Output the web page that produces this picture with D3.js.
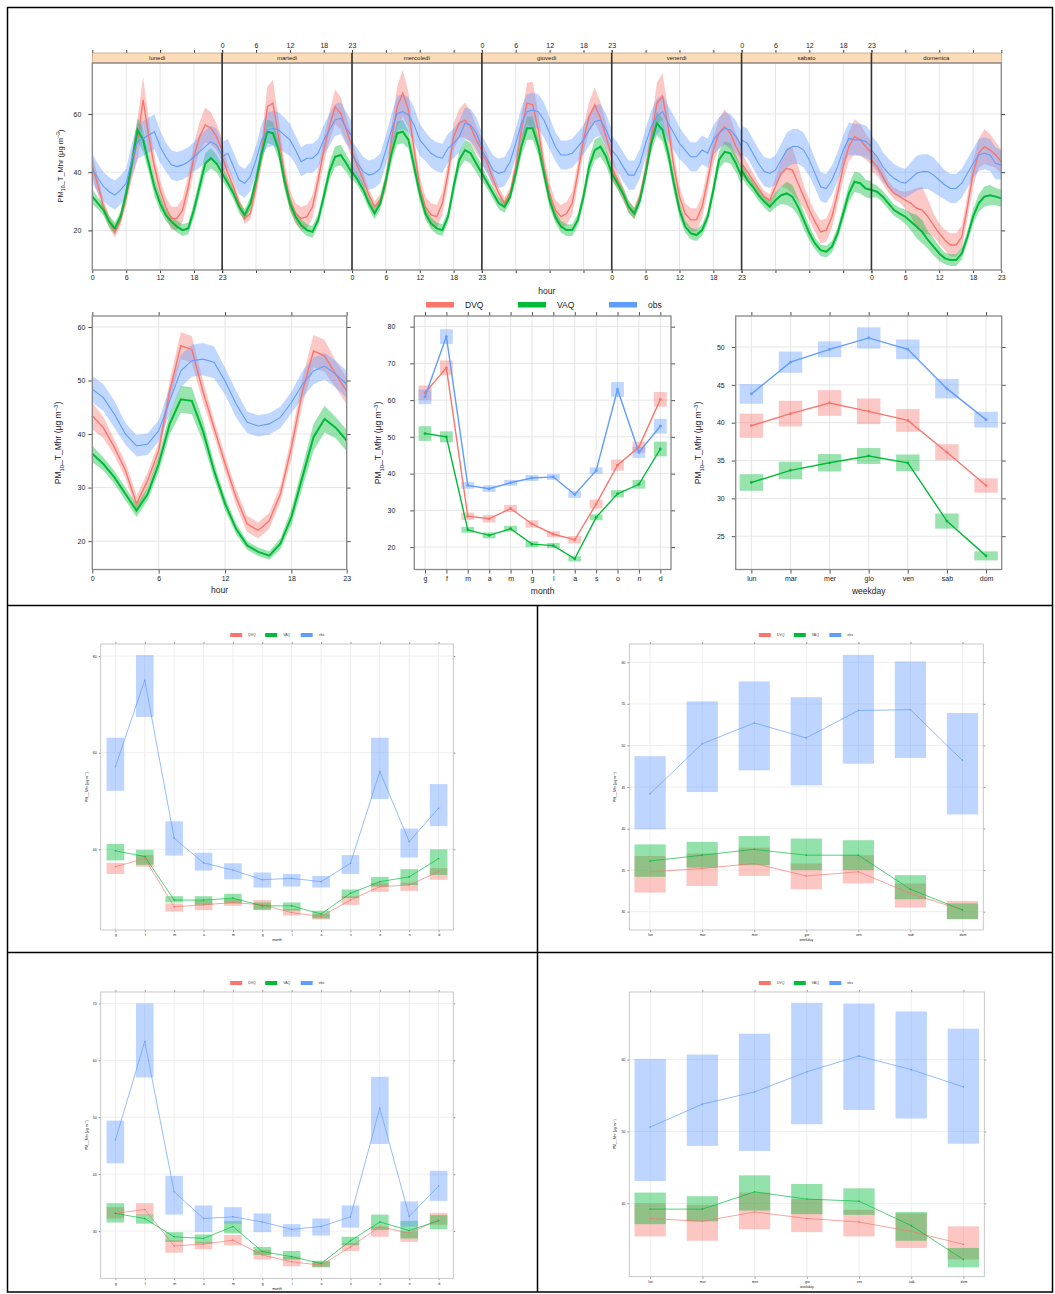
<!DOCTYPE html>
<meta charset="utf-8">
<style>
body { margin: 0; background: #fff; }
svg { display: block; font-family: "Liberation Sans", Arial, sans-serif; }
</style>
<body>
<div id="chart"></div>
<script src="https://d3js.org/d3.v7.min.js"></script>
<script>
// ---------- data ----------
var seriesNames = ["DVQ", "VAQ", "obs"];
var colors = ["#F8766D", "#00BA38", "#619CFF"];
var days = ["lunedì", "martedì", "mercoledì", "giovedì", "venerdì", "sabato", "domenica"];
var hourTicks = [0, 6, 12, 18, 23];

// hourly means per weekday (7 x 24)
var dvqWeek = [
  [42, 35.5, 28.1, 23, 19.5, 23.6, 31.6, 41.9, 51.1, 64.8, 52.2, 41.9, 33.9, 28.1, 24.1, 24.1, 27, 35, 45.3, 52.2, 56.2, 55.1, 52.2, 47.6],
  [45.3, 39.6, 35, 29.3, 24.1, 25.8, 35, 46.5, 62.5, 63.7, 52.2, 39.6, 30.4, 25.8, 24.1, 24.7, 28.1, 37.3, 47.6, 55.6, 62.5, 60.2, 54.5, 48.8],
  [47, 41.9, 37.3, 32.1, 28.1, 30.4, 36.2, 51.1, 62.5, 67.1, 61.4, 47.6, 35, 28.1, 25.3, 24.7, 29.3, 39.6, 52.2, 56.8, 57.9, 55.6, 51.1, 47.6],
  [46.5, 43, 37.3, 32.7, 29.3, 32.7, 41.9, 54.5, 63.7, 63.1, 54.5, 41.9, 32.7, 27, 24.7, 25.8, 29.3, 39.6, 51.1, 59.1, 63.1, 58.5, 52.2, 45.3],
  [41.9, 37.3, 32.7, 28.1, 25.8, 31.6, 40.7, 52.2, 63.7, 66, 55.6, 41.9, 31.6, 25.8, 23.6, 23.6, 28.1, 37.3, 47.6, 53.4, 55.6, 53.4, 48.8, 45.3],
  [43, 40.2, 37.3, 34.4, 31.6, 30.4, 35, 39.6, 41.3, 40.7, 36.2, 31.6, 27, 23, 19.5, 20.1, 24.7, 32.7, 41.9, 48.8, 52.2, 51.1, 48.8, 46.5],
  [44.2, 41.9, 38.5, 35, 32.7, 31.6, 30.4, 29.3, 27.6, 27, 24.7, 21.8, 19, 16.7, 15, 15, 17.8, 28.1, 39.6, 46.5, 48.8, 47.6, 45.9, 43.6]
];
var vaqWeek = [
  [31.6, 29.3, 27, 23, 20.7, 24.7, 32.7, 43, 54.5, 51.1, 43, 35, 29.3, 25.3, 23, 21.3, 20.1, 20.7, 27, 35, 43, 44.8, 43, 39.6],
  [39.6, 36.2, 32.7, 28.1, 25.3, 29.3, 37.3, 46.5, 53.9, 53.4, 47.6, 37.3, 29.3, 24.7, 21.8, 20.1, 19.5, 23.6, 31.6, 40.2, 45.3, 45.9, 43, 39.6],
  [40.2, 37.3, 33.9, 29.3, 25.8, 29.3, 37.3, 46.5, 53.4, 53.9, 51.1, 41.9, 32.7, 25.8, 22.4, 20.7, 20.1, 24.7, 35, 44.2, 47.6, 46.5, 43, 39.6],
  [39.6, 36.2, 32.7, 29.3, 28.1, 31.6, 39.6, 48.8, 55.1, 55.1, 48.8, 39.6, 30.4, 24.7, 21.3, 20.1, 20.1, 23.6, 31.6, 41.9, 47.6, 48.8, 45.3, 39.6],
  [39.6, 36.2, 32.7, 28.1, 25.8, 30.4, 39.6, 49.9, 56.8, 54.5, 46.5, 36.2, 27, 21.3, 19, 18.4, 20.1, 24.7, 33.9, 44.2, 47, 46.5, 43, 38.5],
  [40.7, 37.3, 35, 32.1, 29.9, 28.1, 30.4, 32.1, 32.7, 31.6, 28.1, 23.6, 19, 15.5, 13.2, 12.7, 14.4, 19, 25.8, 32.7, 36.7, 36.2, 34.4, 33.9],
  [33.9, 33.3, 31.6, 29.3, 27, 25.8, 24.7, 23, 21.3, 19.5, 16.7, 14.4, 12.1, 10.4, 9.8, 9.8, 12.1, 17.8, 24.7, 29.3, 31.6, 32.1, 31.6, 31]
];
var obsWeek = [
  [41.3, 37.9, 35, 33.3, 32.1, 33.9, 36.2, 44.2, 50.5, 51.6, 52.8, 53.9, 48.8, 45.3, 42.5, 41.9, 42.5, 43.6, 45.3, 47, 48.8, 50.5, 49.3, 45.9],
  [45.3, 46.5, 41.9, 37.3, 36.2, 38.5, 44.2, 51.1, 54.5, 55.1, 54.5, 52.8, 51.1, 47.6, 43.6, 44.8, 44.8, 46.5, 51.1, 54.5, 57.9, 58.5, 55.1, 52.2],
  [45.9, 43, 40.2, 39, 39.6, 41.3, 47.6, 54.5, 60.2, 60.8, 59.7, 56.2, 51.1, 48.8, 46.5, 45.3, 44.8, 48.2, 49.9, 52.2, 56.8, 56.2, 53.4, 48.8],
  [47.6, 44.2, 40.7, 39.6, 40.2, 43.6, 49.9, 56.8, 60.8, 61.4, 60.8, 57.9, 53.4, 48.8, 45.9, 45.9, 46.5, 48.8, 51.1, 54.5, 57.4, 57.9, 54.5, 49.9],
  [47.6, 45.3, 41.9, 39, 39, 43, 49.9, 55.6, 59.1, 60.8, 56.8, 53.4, 49.9, 47.6, 45.3, 45.3, 47.6, 46.5, 51.1, 53.4, 55.1, 54.5, 52.2, 48.8],
  [51.1, 49.9, 46.5, 43, 40.2, 39.6, 40.7, 44.2, 47.6, 48.8, 48.8, 47.6, 44.2, 39.6, 35, 34.4, 37.3, 41.9, 47.6, 51.6, 51.1, 51.1, 50.5, 48.8],
  [47.6, 45.3, 41.9, 39.6, 37.9, 36.7, 36.2, 37.9, 39.6, 40.2, 40.2, 39, 37.3, 35.6, 34.4, 34.4, 36.2, 39.6, 43, 45.9, 46.5, 45.9, 43, 42.5]
];
// half-width of the confidence band by hour of day
var dvqWeekCi = [4, 3, 2.5, 2, 2, 2, 3, 4.5, 7, 8, 6, 4, 3.5, 3.5, 4, 4, 4, 4, 4.5, 5, 6, 5.5, 4.5, 4];
var vaqWeekCi = [2.5, 2, 2, 2, 2, 2, 2.5, 3, 4, 4, 3, 3, 2.5, 2, 2, 2, 2, 2, 2.5, 3, 3.5, 3.5, 3, 3];
var obsWeekCi = [5, 5, 5, 5, 5, 5, 5, 5.5, 6, 6, 6, 6, 5.5, 5, 5, 5, 5, 5, 5, 5.5, 5.5, 5.5, 5.5, 5];

// mean diurnal cycle
var dvqHour = [43.4, 41.2, 37.5, 33.2, 27, 31.3, 36.9, 48, 56.5, 55.8, 48, 41.2, 34.5, 28.2, 23.2, 22, 23.8, 28.8, 37.5, 48, 55.5, 54.6, 51.2, 48];
var vaqHour = [36.3, 34.4, 31.9, 28.8, 25.7, 28.8, 34.4, 41.9, 46.5, 46.2, 40.6, 33.2, 27, 22.3, 19.2, 18, 17.3, 19.5, 24.5, 32, 39.4, 42.8, 41.2, 38.8];
var obsHour = [48.4, 46.8, 43.7, 40, 37.8, 38.1, 40.6, 46.2, 51.8, 53.7, 54, 53.4, 49.9, 45.6, 42.2, 41.5, 41.9, 43.1, 45.9, 49.3, 51.8, 52.7, 51.2, 49.3];
var dvqHourCi = [2.5, 2, 1.5, 1.5, 1.5, 1.5, 1.5, 2, 2.5, 2.5, 2, 1.5, 1.5, 1.5, 1.5, 1.5, 1.5, 1.5, 2, 2.5, 3, 3, 2.5, 2.5];
var vaqHourCi = [1.5, 1.2, 1.2, 1.2, 1.2, 1.2, 1.5, 2, 2.5, 2.5, 2, 1.5, 1.2, 1, 0.8, 0.8, 0.8, 1, 1.5, 2, 2.5, 2.5, 2, 2];
var obsHourCi = [2.5, 2.5, 2.5, 2, 2, 2, 2, 2.5, 3, 3, 3, 3, 2.5, 2.5, 2, 2, 2, 2, 2, 2.5, 2.5, 2.5, 2.5, 2.5];

// monthly means
var months = ["g", "f", "m", "a", "m", "g", "l", "a", "s", "o", "n", "d"];
var dvqMonth = [62, 68.8, 28.4, 27.7, 30.5, 26.3, 23.5, 22, 31.7, 42.3, 47.2, 60.2];
var vaqMonth = [50.9, 50, 24.7, 23.2, 25, 20.8, 20.4, 16.8, 28.1, 34.5, 37.1, 46.7];
var obsMonth = [60.9, 77.3, 36.8, 35.9, 37.5, 38.8, 39.1, 34.3, 40.8, 62.9, 45.8, 52.9];
var dvqMonthCi = [2, 2, 1, 1, 1, 1, 0.8, 1, 1.2, 1.5, 1.5, 2];
var vaqMonthCi = [2, 1.5, 0.8, 0.8, 0.8, 0.8, 0.7, 0.7, 0.8, 1, 1.2, 2];
var obsMonthCi = [2, 2, 0.9, 0.9, 0.8, 0.8, 0.8, 0.9, 0.9, 2, 1.5, 2];

// weekday means
var weekdays = ["lun", "mar", "mer", "gio", "ven", "sab", "dom"];
var dvqWday = [39.6, 41.2, 42.6, 41.5, 40.3, 36.1, 31.7];
var vaqWday = [32.1, 33.7, 34.7, 35.6, 34.7, 27, 22.4];
var obsWday = [43.8, 48, 49.7, 51.2, 49.7, 44.5, 40.4];
var dvqWdayCi = [1.6, 1.7, 1.7, 1.7, 1.5, 1.05, 0.95];
var vaqWdayCi = [1.1, 1.15, 1.15, 1.05, 1.1, 1, 0.6];
var obsWdayCi = [1.3, 1.4, 1.05, 1.4, 1.3, 1.3, 1.05];

// lower panels: [DVQ, VAQ, obs]
var p1Mean = [[36.4, 38.1, 28.1, 28.5, 29, 28.5, 26.9, 26.1, 29.5, 32.3, 32.6, 35.4],
              [39.7, 38.5, 29.5, 29.5, 29.9, 28.3, 28.3, 26.6, 30.9, 33.3, 34.3, 38.1],
              [57.1, 75, 42.3, 37.2, 35.7, 33.7, 34, 33.3, 37.1, 56.1, 41.6, 48.5]];
var p1Lo = [[34.9, 36.4, 27.1, 27.4, 28.3, 27.6, 26.3, 25.5, 28.5, 31.2, 31.4, 33.7],
            [37.7, 36.8, 29, 28.5, 28.8, 27.4, 27.3, 25.7, 29.9, 32.3, 32.6, 34.7],
            [52.1, 67.4, 38.7, 35.6, 33.8, 32.1, 32.3, 32.1, 34.9, 50.4, 38.3, 44.8]];
var p1Hi = [[37.2, 38.8, 28.8, 29.4, 29.7, 29.5, 27.7, 26.6, 30.3, 33, 33.1, 36.1],
            [41.1, 39.9, 30.3, 30.3, 30.8, 29, 29, 27.3, 31.7, 34.3, 35.9, 40],
            [63.1, 80.2, 45.8, 39.3, 37.1, 35.2, 34.9, 34.5, 38.8, 63.1, 44.3, 53.5]];
var p1Ticks = [40, 60, 80];

var p2Mean = [[34.8, 35.2, 35.8, 34.3, 34.8, 32.2, 30.2],
              [36.1, 36.8, 37.5, 36.8, 36.8, 32.7, 30.2],
              [44.2, 50.2, 52.7, 50.9, 54.2, 54.3, 48.2]];
var p2Lo = [[32.3, 33.1, 34.3, 32.7, 33.4, 30.5, 29.1],
            [34.2, 35.3, 35.6, 35, 35, 31.5, 29.1],
            [39.9, 44.4, 47, 45.2, 47.8, 48.5, 41.7]];
var p2Hi = [[36.7, 37, 37.7, 35.8, 36.8, 33.4, 31.3],
            [38.1, 38.4, 39.1, 38.8, 38.6, 34.4, 31],
            [48.7, 55.3, 57.7, 55.8, 60.9, 60.1, 53.9]];
var p2Ticks = [30, 35, 40, 45, 50, 55, 60];

var p3Mean = [[33.1, 33.8, 27.4, 27.7, 28.4, 25.8, 24.6, 24, 27.2, 30.8, 29.6, 32],
              [33.1, 32.2, 29, 28.7, 30.8, 26.4, 25.5, 24.3, 28.3, 31.6, 30.1, 31.8],
              [46, 63.3, 36.9, 32.2, 32.5, 31.6, 30.3, 30.8, 32.5, 51.6, 32.6, 37.9]];
var p3Lo = [[32.2, 32.8, 26.2, 26.8, 27.5, 25, 23.8, 23.6, 26.5, 29, 28.1, 31.1],
            [31.5, 31.3, 28.1, 27.8, 29.6, 25.8, 25, 23.7, 27.5, 30.2, 28.7, 30.3],
            [41.9, 57, 32.9, 29.8, 31.3, 29.8, 29, 29.2, 30.6, 45.3, 30.8, 35.3]];
var p3Hi = [[34.2, 34.9, 28.4, 28.1, 29.3, 26.7, 25.5, 24.6, 27.9, 30.8, 29.9, 33.2],
            [34.9, 32.9, 29.8, 29.4, 31.8, 27.2, 26.5, 24.8, 29, 32.9, 31.8, 32.8],
            [49.4, 70, 39.7, 34.5, 34.2, 33.1, 31.2, 32.2, 34.5, 57.1, 35.2, 40.6]];
var p3Ticks = [30, 40, 50, 60, 70];

var p4Mean = [[37.9, 37.5, 38.8, 37.9, 37.4, 36.1, 34.3],
              [39.2, 39.2, 41.6, 40.6, 40.3, 36.9, 32.2],
              [50.6, 53.8, 55.5, 58.3, 60.5, 58.6, 56.2]];
var p4Lo = [[35.4, 34.8, 36.4, 36, 35.4, 33.8, 32.2],
            [37.1, 37.5, 39, 38.5, 38.4, 34.8, 31.1],
            [43.1, 48, 47.3, 51, 53, 51.8, 48.3]];
var p4Hi = [[40, 39.8, 41.5, 40.6, 39.1, 38.6, 36.8],
            [41.5, 41, 43.9, 42.7, 42.1, 38.8, 33.8],
            [60.1, 60.7, 63.6, 67.9, 67.8, 66.7, 64.3]];
var p4Ticks = [40, 50, 60];

// ---------- drawing ----------
var svg = d3.select("#chart").append("svg")
    .attr("width", 1055)
    .attr("height", 1294);

svg.append("rect").attr("width", 1055).attr("height", 1294).attr("fill", "#fff");

function tidyAxis(g, size, color) {
  g.attr("font-size", size).attr("font-family", null);
  g.select(".domain").remove();
  g.selectAll(".tick line").attr("stroke", color || "#444");
  g.selectAll(".tick text").attr("fill", "#222");
}

function yTitle(x, y, size, mid) {
  var t = svg.append("text")
      .attr("transform", "translate(" + x + "," + y + ") rotate(-90)")
      .attr("text-anchor", "middle")
      .attr("font-size", size)
      .attr("fill", "#222");
  t.append("tspan").text("PM");
  t.append("tspan").attr("font-size", size * 0.7).attr("dy", size * 0.3).text("10");
  t.append("tspan").attr("dy", -size * 0.3).text(mid + " (μg m");
  t.append("tspan").attr("font-size", size * 0.7).attr("dy", -size * 0.4).text("−3");
  t.append("tspan").attr("dy", size * 0.4).text(")");
}

// ---- top: hour by weekday ----
var topX0 = 92.3, topX1 = 1001.3, topY0 = 63, topY1 = 270, stripY = 53;
var pw = (topX1 - topX0) / 7;
var yTop = d3.scaleLinear().domain([6.4, 77.5]).range([topY1, topY0]);
var weekData = [dvqWeek, vaqWeek, obsWeek];
var weekCi = [dvqWeekCi, vaqWeekCi, obsWeekCi];
var lineW = [1.4, 2, 1.1];

days.forEach(function(day, d) {
  var x = d3.scaleLinear().domain([0, 23]).range([topX0 + d * pw, topX0 + (d + 1) * pw]);
  var g = svg.append("g");

  g.selectAll(".vg").data(hourTicks).join("line")
      .attr("x1", x).attr("x2", x).attr("y1", topY0).attr("y2", topY1)
      .attr("stroke", "#e6e6e6");
  g.selectAll(".hg").data([20, 40, 60]).join("line")
      .attr("x1", x(0)).attr("x2", x(23)).attr("y1", yTop).attr("y2", yTop)
      .attr("stroke", "#e6e6e6");

  weekData.forEach(function(sd, i) {
    var area = d3.area()
        .x(function(v, h) { return x(h); })
        .y0(function(v, h) { return yTop(v - weekCi[i][h]); })
        .y1(function(v, h) { return yTop(v + weekCi[i][h]); });
    g.append("path").datum(sd[d]).attr("d", area)
        .attr("fill", colors[i]).attr("fill-opacity", 0.4);
  });
  weekData.forEach(function(sd, i) {
    var line = d3.line()
        .x(function(v, h) { return x(h); })
        .y(function(v) { return yTop(v); });
    g.append("path").datum(sd[d]).attr("d", line)
        .attr("fill", "none").attr("stroke", colors[i]).attr("stroke-width", lineW[i]);
  });

  var bx = g.append("g").attr("transform", "translate(0," + topY1 + ")")
      .call(d3.axisBottom(x).tickValues(hourTicks).tickSize(3).tickPadding(2)
        .tickFormat(d % 2 === 0 ? d3.format("d") : function() { return ""; }));
  tidyAxis(bx, 7);
  var tx = g.append("g").attr("transform", "translate(0," + stripY + ")")
      .call(d3.axisTop(x).tickValues(hourTicks).tickSize(3).tickPadding(2)
        .tickFormat(d % 2 === 1 ? d3.format("d") : function() { return ""; }));
  tidyAxis(tx, 7);

  g.append("rect")
      .attr("x", x(0)).attr("y", stripY).attr("width", pw).attr("height", topY0 - stripY)
      .attr("fill", "#fddcb8").attr("stroke", "#b89572").attr("stroke-width", 0.7);
  g.append("text")
      .attr("x", x(11.5)).attr("y", (stripY + topY0) / 2).attr("dy", "0.35em")
      .attr("text-anchor", "middle").attr("font-size", 6).attr("fill", "#222")
      .text(day);
});

// panel frame and day separators
svg.append("rect")
    .attr("x", topX0).attr("y", topY0).attr("width", topX1 - topX0).attr("height", topY1 - topY0)
    .attr("fill", "none").attr("stroke", "#888").attr("stroke-width", 1.3);
d3.range(1, 7).forEach(function(d) {
  svg.append("line")
      .attr("x1", topX0 + d * pw).attr("x2", topX0 + d * pw)
      .attr("y1", stripY).attr("y2", topY1)
      .attr("stroke", "#333").attr("stroke-width", 1.6);
});
var tyl = svg.append("g").attr("transform", "translate(" + topX0 + ",0)")
    .call(d3.axisLeft(yTop).tickValues([20, 40, 60]).tickSize(4).tickPadding(7));
tidyAxis(tyl, 7);
var tyr = svg.append("g").attr("transform", "translate(" + topX1 + ",0)")
    .call(d3.axisRight(yTop).tickValues([20, 40, 60]).tickSize(4).tickFormat(function() { return ""; }));
tidyAxis(tyr, 7);
svg.append("text").attr("x", (topX0 + topX1) / 2).attr("y", 291).attr("dy", "0.35em")
    .attr("text-anchor", "middle").attr("font-size", 8.5).attr("fill", "#222").text("hour");
yTitle(63, 166, 7.5, "_T_Mhr");

// legend
var legX = [426, 518, 609];
seriesNames.forEach(function(n, i) {
  svg.append("rect").attr("x", legX[i]).attr("y", 302).attr("width", 28).attr("height", 5.5)
      .attr("fill", colors[i]);
  svg.append("text").attr("x", legX[i] + 39).attr("y", 305).attr("dy", "0.35em")
      .attr("font-size", 8.5).attr("fill", "#222").text(n);
});

// ---- middle left: diurnal ----
var midY0 = 316, midY1 = 569.5;
var hx = d3.scaleLinear().domain([0, 23]).range([92.3, 346.7]);
var hy = d3.scaleLinear().domain([14.7, 62.05]).range([midY1, midY0]);
var hourData = [dvqHour, vaqHour, obsHour];
var hourCi = [dvqHourCi, vaqHourCi, obsHourCi];

function frameAndGrid(xs, ys, xt, yt, opt) {
  var g = svg.append("g");
  var x0 = xs.range()[0], x1 = xs.range()[1], y0 = ys.range()[1], y1 = ys.range()[0];
  g.selectAll(".vg").data(xt).join("line")
      .attr("x1", xs).attr("x2", xs).attr("y1", y0).attr("y2", y1).attr("stroke", opt.grid);
  g.selectAll(".hg").data(yt).join("line")
      .attr("x1", x0).attr("x2", x1).attr("y1", ys).attr("y2", ys).attr("stroke", opt.grid);
  return g;
}

function axesAround(xs, ys, xt, yt, xLabels, opt) {
  var x0 = xs.range()[0], x1 = xs.range()[1], y0 = ys.range()[1], y1 = ys.range()[0];
  var a;
  a = svg.append("g").attr("transform", "translate(0," + y1 + ")")
      .call(d3.axisBottom(xs).tickValues(xt).tickSize(opt.ts).tickPadding(opt.tp)
        .tickFormat(function(v, i) { return xLabels[i]; }));
  tidyAxis(a, opt.fs, opt.tc);
  a = svg.append("g").attr("transform", "translate(0," + y0 + ")")
      .call(d3.axisTop(xs).tickValues(xt).tickSize(opt.ts).tickFormat(function() { return ""; }));
  tidyAxis(a, opt.fs, opt.tc);
  a = svg.append("g").attr("transform", "translate(" + x0 + ",0)")
      .call(d3.axisLeft(ys).tickValues(yt).tickSize(opt.ts).tickPadding(opt.ytp));
  tidyAxis(a, opt.fs, opt.tc);
  a = svg.append("g").attr("transform", "translate(" + x1 + ",0)")
      .call(d3.axisRight(ys).tickValues(yt).tickSize(opt.ts).tickFormat(function() { return ""; }));
  tidyAxis(a, opt.fs, opt.tc);
  svg.append("rect").attr("x", x0).attr("y", y0).attr("width", x1 - x0).attr("height", y1 - y0)
      .attr("fill", "none").attr("stroke", opt.frame).attr("stroke-width", opt.fw);
}

var midOpt = { grid: "#e6e6e6", ts: 4, tp: 3, ytp: 3, fs: 7, tc: "#555", frame: "#888", fw: 1.3 };

var gh = frameAndGrid(hx, hy, hourTicks, [20, 30, 40, 50, 60], midOpt);
hourData.forEach(function(sd, i) {
  gh.append("path").datum(sd)
      .attr("d", d3.area()
        .x(function(v, h) { return hx(h); })
        .y0(function(v, h) { return hy(v - hourCi[i][h]); })
        .y1(function(v, h) { return hy(v + hourCi[i][h]); }))
      .attr("fill", colors[i]).attr("fill-opacity", 0.4);
});
hourData.forEach(function(sd, i) {
  gh.append("path").datum(sd)
      .attr("d", d3.line().x(function(v, h) { return hx(h); }).y(function(v) { return hy(v); }))
      .attr("fill", "none").attr("stroke", colors[i]).attr("stroke-width", lineW[i]);
});
axesAround(hx, hy, hourTicks, [20, 30, 40, 50, 60], hourTicks, midOpt);
svg.append("text").attr("x", (hx.range()[0] + hx.range()[1]) / 2).attr("y", 590).attr("dy", "0.35em")
    .attr("text-anchor", "middle").attr("font-size", 8.5).attr("fill", "#222").text("hour");
yTitle(61, 443, 8.5, "_T_Mhr");

// ---- box + line panels ----
function boxPanel(o) {
  var n = o.cats.length;
  var xs = d3.scaleLinear().domain(o.xdom).range([o.x0, o.x1]);
  var ys = d3.scaleLinear().domain(o.ydom).range([o.y1, o.y0]);
  var idx = d3.range(1, n + 1);
  var g = frameAndGrid(xs, ys, idx, o.ticks, o.opt);
  var bw = xs(1.3) - xs(1);
  o.mean.forEach(function(sd, i) {
    g.selectAll(".b" + i).data(sd).join("rect")
        .attr("x", function(v, k) { return xs(k + 1) - bw; })
        .attr("width", 2 * bw)
        .attr("y", function(v, k) { return ys(o.hi[i][k]); })
        .attr("height", function(v, k) { return ys(o.lo[i][k]) - ys(o.hi[i][k]); })
        .attr("fill", colors[i]).attr("fill-opacity", o.alpha);
  });
  o.mean.forEach(function(sd, i) {
    g.append("path").datum(sd)
        .attr("d", d3.line().x(function(v, k) { return xs(k + 1); }).y(function(v) { return ys(v); }))
        .attr("fill", "none").attr("stroke", colors[i]).attr("stroke-width", o.lw)
        .attr("stroke-opacity", o.lineOpacity);
    g.selectAll(".d" + i).data(sd).join("circle")
        .attr("cx", function(v, k) { return xs(k + 1); })
        .attr("cy", ys).attr("r", o.dot).attr("fill", colors[i]);
  });
  axesAround(xs, ys, idx, o.ticks, o.cats, o.opt);
  svg.append("text").attr("x", (o.x0 + o.x1) / 2).attr("y", o.xTitleY).attr("dy", "0.35em")
      .attr("text-anchor", "middle").attr("font-size", o.titleSize).attr("fill", "#222").text(o.xTitle);
}

function withCi(means, cis, sign) {
  return means.map(function(sd, i) {
    return sd.map(function(v, k) { return v + sign * cis[i][k]; });
  });
}

var monthMeans = [dvqMonth, vaqMonth, obsMonth];
var monthCis = [dvqMonthCi, vaqMonthCi, obsMonthCi];
boxPanel({
  cats: months, xdom: [0.5, 12.5], x0: 414.3, x1: 671, y0: midY0, y1: midY1,
  ydom: [13.9, 82.9], ticks: [20, 30, 40, 50, 60, 70, 80],
  mean: monthMeans, lo: withCi(monthMeans, monthCis, -1), hi: withCi(monthMeans, monthCis, 1),
  alpha: 0.4, lw: 1.4, lineOpacity: 1, dot: 1.4,
  opt: { grid: "#e6e6e6", ts: 4, tp: 3, ytp: 15, fs: 7, tc: "#555", frame: "#888", fw: 1.3 },
  xTitle: "month", xTitleY: 591, titleSize: 8.5
});
yTitle(381, 443, 8.5, "_T_Mhr");

var wdayMeans = [dvqWday, vaqWday, obsWday];
var wdayCis = [dvqWdayCi, vaqWdayCi, obsWdayCi];
boxPanel({
  cats: weekdays, xdom: [0.6, 7.4], x0: 735.7, x1: 1001.7, y0: midY0, y1: midY1,
  ydom: [20.6, 54.1], ticks: [25, 30, 35, 40, 45, 50],
  mean: wdayMeans, lo: withCi(wdayMeans, wdayCis, -1), hi: withCi(wdayMeans, wdayCis, 1),
  alpha: 0.4, lw: 1.4, lineOpacity: 1, dot: 1.4,
  opt: { grid: "#e6e6e6", ts: 4, tp: 3, ytp: 7, fs: 7, tc: "#555", frame: "#888", fw: 1.3 },
  xTitle: "weekday", xTitleY: 591, titleSize: 8.5
});
yTitle(701, 443, 8.5, "_T_Mhr");

// ---- lower four panels ----
var lowOpt = { grid: "#eeeeee", ts: 2, tp: 2, ytp: 2, fs: 3.5, tc: "#999", frame: "#bbb", fw: 0.8 };

function lowPanel(x0, x1, y0, y1, cats, xdom, ydom, ticks, mean, lo, hi, xTitle) {
  boxPanel({
    cats: cats, xdom: xdom, x0: x0, x1: x1, y0: y0, y1: y1,
    ydom: ydom, ticks: ticks, mean: mean, lo: lo, hi: hi,
    alpha: 0.42, lw: 0.9, lineOpacity: 0.75, dot: 0.8,
    opt: lowOpt, xTitle: xTitle, xTitleY: y1 + 10, titleSize: 3.5
  });
  yTitle(x0 - 13, (y0 + y1) / 2, 3.5, "_Mhr");
  var lx = [x0 + 129.5, x0 + 164.5, x0 + 200];
  seriesNames.forEach(function(n, i) {
    svg.append("rect").attr("x", lx[i]).attr("y", y0 - 11).attr("width", 12).attr("height", 4)
        .attr("fill", colors[i]);
    svg.append("text").attr("x", lx[i] + 18).attr("y", y0 - 9).attr("dy", "0.35em")
        .attr("font-size", 3.5).attr("fill", "#444").text(n);
  });
}

lowPanel(100.7, 453.3, 644, 930, months, [0.5, 12.5], [23.3, 82.5], p1Ticks, p1Mean, p1Lo, p1Hi, "month");
lowPanel(629.3, 983.3, 644, 930, weekdays, [0.6, 7.4], [27.8, 62.2], p2Ticks, p2Mean, p2Lo, p2Hi, "weekday");
lowPanel(100.7, 453.3, 992, 1278.3, months, [0.5, 12.5], [21.7, 72], p3Ticks, p3Mean, p3Lo, p3Hi, "month");
lowPanel(629.3, 984.3, 992, 1276.7, weekdays, [0.6, 7.4], [29.8, 69.4], p4Ticks, p4Mean, p4Lo, p4Hi, "weekday");

// ---- table borders ----
var border = svg.append("g").attr("stroke", "#000").attr("stroke-width", 1.5).attr("fill", "none");
border.append("rect").attr("x", 7.5).attr("y", 7.5).attr("width", 1045).attr("height", 1284.5);
border.append("line").attr("x1", 7.5).attr("x2", 1052.5).attr("y1", 605.5).attr("y2", 605.5);
border.append("line").attr("x1", 7.5).attr("x2", 1052.5).attr("y1", 952.5).attr("y2", 952.5);
border.append("line").attr("x1", 537.5).attr("x2", 537.5).attr("y1", 605.5).attr("y2", 1292);
</script>
</body>
